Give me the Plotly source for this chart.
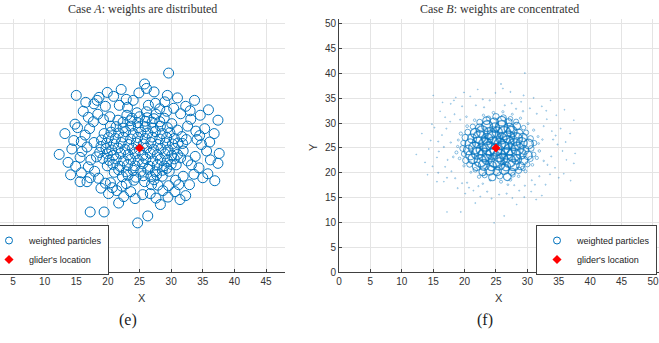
import plotly.graph_objects as go

# ---------------- data ----------------
x_ticks = [0, 5, 10, 15, 20, 25, 30, 35, 40, 45, 50]
y_ticks = [0, 5, 10, 15, 20, 25, 30, 35, 40, 45, 50]
glider_x = [25.0]
glider_y = [25.0]

# particles in the central blob (heavy weights in case B)
core_x = [23.2, 24.4, 25.6, 26.8, 27.7,
          21.7, 22.9, 24.0, 25.2, 26.3, 27.5, 28.6, 29.3,
          20.8, 21.9, 23.1, 24.3, 25.5, 26.6, 27.8, 28.9, 30.0,
          20.2, 21.3, 22.5, 23.6, 24.8, 26.0, 27.1, 28.3, 29.4, 30.5,
          19.9, 20.9, 22.0, 23.2, 24.3, 25.5, 26.7, 27.8, 29.0, 30.1, 31.0,
          19.7, 20.6, 21.6, 22.7, 23.9, 25.0, 26.1, 27.2, 28.4, 29.5, 30.6,
          19.8, 20.9, 22.1, 23.3, 24.5, 25.6, 26.8, 27.9, 29.1, 30.2, 31.1,
          20.1, 21.2, 22.4, 23.6, 24.7, 25.9, 27.0, 28.2, 29.3, 30.5,
          20.5, 21.7, 22.8, 24.0, 25.2, 26.3, 27.5, 28.6, 29.8,
          21.3, 22.4, 23.6, 24.8, 25.9, 27.1, 28.3, 29.4,
          22.4, 23.5, 24.7, 25.9, 27.0, 28.2,
          23.8, 25.0, 26.2, 27.3]
core_y = [19.5, 19.1, 19.4, 19.2, 19.6,
          20.6, 20.2, 20.5, 20.3, 20.7, 20.2, 20.5, 20.9,
          21.7, 21.3, 21.6, 21.4, 21.8, 21.3, 21.6, 21.4, 21.7,
          22.5, 22.8, 22.4, 22.7, 22.5, 22.8, 22.4, 22.7, 22.5, 22.8,
          23.8, 23.5, 23.9, 23.6, 23.8, 23.5, 23.9, 23.6, 23.8, 23.5, 23.7,
          24.9, 24.6, 25.0, 24.7, 24.9, 24.6, 25.0, 24.7, 24.9, 24.6, 24.9,
          26.0, 25.8, 26.1, 25.7, 26.0, 25.8, 26.1, 25.7, 26.0, 25.8, 26.0,
          27.1, 26.9, 27.2, 26.8, 27.1, 26.9, 27.2, 26.8, 27.1, 26.9,
          28.2, 28.0, 28.3, 27.9, 28.2, 28.0, 28.3, 27.9, 28.1,
          29.3, 29.0, 29.4, 29.1, 29.3, 29.0, 29.4, 29.1,
          30.2, 30.5, 30.1, 30.4, 30.2, 30.3,
          31.0, 31.3, 31.1, 30.9]
core_w_b = [0.35, 0.5, 0.45, 0.55, 0.3,
            0.3, 0.55, 0.7, 0.6, 0.75, 0.5, 0.45, 0.3,
            0.4, 0.6, 0.8, 0.7, 0.9, 0.65, 0.85, 0.55, 0.35,
            0.45, 0.7, 0.9, 0.75, 1.0, 0.8, 0.95, 0.7, 0.6, 0.35,
            0.35, 0.65, 0.85, 1.0, 0.8, 0.95, 0.85, 1.0, 0.75, 0.6, 0.3,
            0.4, 0.7, 0.9, 0.8, 1.0, 0.9, 1.0, 0.85, 0.95, 0.65, 0.4,
            0.35, 0.75, 0.8, 1.0, 0.9, 0.85, 1.0, 0.9, 0.8, 0.7, 0.35,
            0.45, 0.65, 0.95, 0.85, 1.0, 0.8, 0.9, 0.95, 0.6, 0.4,
            0.4, 0.7, 0.85, 0.9, 0.75, 1.0, 0.8, 0.65, 0.35,
            0.35, 0.6, 0.8, 0.7, 0.9, 0.75, 0.55, 0.3,
            0.4, 0.55, 0.65, 0.7, 0.5, 0.35,
            0.3, 0.45, 0.4, 0.3]

# particles at the rim of the blob
edge_x = [18.9, 18.7, 19.0, 19.2, 19.4, 19.9, 20.4, 21.0, 21.6, 22.3, 23.0, 24.1,
          24.6, 25.8, 26.1, 27.3, 27.6, 28.6, 28.9, 29.7, 30.1, 30.8, 31.0, 31.5,
          31.7, 31.9, 31.8, 32.4, 18.2, 22.9, 26.9, 20.3, 29.3, 17.8, 32.6]
edge_y = [25.3, 24.1, 26.6, 22.9, 27.9, 21.4, 29.4, 20.1, 30.6, 19.2, 31.6, 18.5,
          32.1, 18.2, 32.3, 18.6, 31.8, 19.3, 31.0, 20.3, 29.9, 21.6, 28.6, 23.0,
          27.3, 24.4, 25.9, 26.7, 23.2, 17.8, 17.6, 31.3, 32.4, 26.1, 22.4]
edge_w_b = [0.12, 0.18, 0.1, 0.15, 0.2, 0.12, 0.16, 0.1, 0.14, 0.2, 0.12, 0.1,
            0.15, 0.18, 0.12, 0.16, 0.1, 0.14, 0.12, 0.18, 0.1, 0.15, 0.12, 0.2,
            0.1, 0.14, 0.08, 0.06, 0.08, 0.06, 0.08, 0.07, 0.06, 0.05, 0.06]

# outlying particles (near-zero weights in case B)
outer_x = [29.6, 25.8, 26.1, 15.0, 29.4, 37.4, 14.8, 12.3, 13.7, 37.6,
           37.4, 34.8, 32.3, 30.4, 15.6, 16.7, 20.7, 23.6, 25.5, 26.7,
           28.7, 30.6, 32.3, 32.9, 35.0, 35.8, 24.7, 26.3, 17.2, 19.4,
           18.3, 19.6, 22.9, 24.0, 27.5, 16.9, 15.8, 16.7, 15.9, 15.6,
           33.8, 34.1, 32.6, 33.1, 17.2, 20.4, 31.2, 17.8, 18.6, 20.9,
           21.8, 23.1, 26.4, 28.2, 29.0, 31.5, 33.9, 34.5, 33.2, 34.4,
           33.6, 31.9, 30.7, 29.6, 27.9, 22.2, 21.4, 19.6, 18.5, 17.9,
           16.9, 17.3, 16.4, 17.1, 17.7, 18.4, 19.3, 16.1, 15.2, 14.6,
           14.3, 14.9, 15.8, 35.6, 36.2, 35.3, 36.1, 34.6, 33.0, 22.5,
           24.3, 27.6, 29.5, 31.4, 18.9, 20.1, 24.9, 27.3, 22.1, 19.9,
           31.0, 16.5, 13.2, 36.8, 28.3, 21.7, 33.7, 35.9, 14.1, 36.9]
outer_y = [40.1, 37.9, 37.0, 35.6, 35.6, 30.6, 29.8, 23.7, 22.1, 23.9,
           21.9, 25.7, 33.4, 33.0, 18.2, 18.2, 17.0, 16.2, 15.6, 15.8,
           16.4, 16.2, 15.4, 17.6, 19.0, 19.8, 9.9, 11.3, 12.1, 12.1,
           34.6, 33.4, 34.8, 34.6, 34.0, 31.2, 26.3, 25.2, 24.3, 23.1,
           23.3, 26.7, 29.4, 30.8, 19.0, 18.0, 17.6, 33.9, 35.2, 35.4,
           33.6, 33.2, 33.6, 32.9, 34.3, 31.9, 28.4, 27.5, 21.6, 21.0,
           19.7, 19.3, 18.5, 17.4, 17.5, 17.3, 16.4, 17.9, 18.9, 20.3,
           21.2, 22.6, 27.6, 28.9, 30.3, 31.8, 30.7, 32.4, 29.1, 26.5,
           24.8, 21.3, 20.0, 24.4, 22.6, 28.9, 26.2, 31.6, 32.5, 15.2,
           14.8, 14.9, 15.1, 14.6, 16.9, 15.8, 36.1, 36.3, 36.8, 36.2,
           35.1, 34.2, 27.9, 27.9, 13.6, 13.9, 34.6, 32.7, 19.6, 18.4]
outer_w_b = [0.02, 0.03, 0.02, 0.01, 0.03, 0.01, 0.02, 0.01, 0.02, 0.01,
             0.02, 0.03, 0.02, 0.03, 0.02, 0.01, 0.03, 0.04, 0.03, 0.04,
             0.03, 0.02, 0.02, 0.03, 0.02, 0.01, 0.01, 0.02, 0.01, 0.02,
             0.02, 0.03, 0.03, 0.04, 0.03, 0.02, 0.03, 0.04, 0.03, 0.02,
             0.03, 0.04, 0.03, 0.02, 0.03, 0.04, 0.03, 0.02, 0.01, 0.02,
             0.03, 0.04, 0.03, 0.04, 0.02, 0.03, 0.02, 0.03, 0.04, 0.02,
             0.03, 0.04, 0.03, 0.04, 0.03, 0.04, 0.02, 0.03, 0.04, 0.03,
             0.02, 0.03, 0.02, 0.03, 0.02, 0.03, 0.04, 0.01, 0.02, 0.02,
             0.01, 0.02, 0.03, 0.02, 0.01, 0.02, 0.02, 0.01, 0.02, 0.02,
             0.03, 0.02, 0.03, 0.02, 0.03, 0.02, 0.02, 0.03, 0.01, 0.02,
             0.02, 0.01, 0.01, 0.02, 0.01, 0.02, 0.01, 0.01, 0.01, 0.01]

# ---------------- assemble ----------------
px = core_x + edge_x + outer_x
py = core_y + edge_y + outer_y
w_b = core_w_b + edge_w_b + outer_w_b

BLUE = "#0072BD"
RED = "#FF0000"
AX = "#404040"
GRID = "#e4e4e4"
SANS = "Liberation Sans, Arial, sans-serif"
SERIF = "Liberation Serif, Times New Roman, serif"

W, H = 659, 343
T, B = 19, 71
plot_h = H - T - B

fig = go.Figure()

# Case A: equal weights
fig.add_trace(go.Scatter(
    x=px, y=py, mode="markers", xaxis="x", yaxis="y", showlegend=False,
    marker=dict(symbol="circle-open", size=10, color=BLUE, line=dict(width=1, color=BLUE)),
    hoverinfo="skip"))
fig.add_trace(go.Scatter(
    x=glider_x, y=glider_y, mode="markers", xaxis="x", yaxis="y", showlegend=False,
    marker=dict(symbol="diamond", size=7, color=RED), hoverinfo="skip"))

# Case B: concentrated weights -> marker size (and stroke) from weight
sizes_b = [0.8 + 12.5 * w for w in w_b]
widths_b = [0.45 + 1.15 * w for w in w_b]
fig.add_trace(go.Scatter(
    x=px, y=py, mode="markers", xaxis="x2", yaxis="y2", showlegend=False,
    marker=dict(symbol="circle-open", size=sizes_b, color=BLUE,
                line=dict(width=widths_b, color=BLUE)),
    hoverinfo="skip"))
fig.add_trace(go.Scatter(
    x=glider_x, y=glider_y, mode="markers", xaxis="x2", yaxis="y2", showlegend=False,
    marker=dict(symbol="diamond", size=7, color=RED), hoverinfo="skip"))

# legend entries
for lg, xa, ya in (("legend", "x", "y"), ("legend2", "x2", "y2")):
    fig.add_trace(go.Scatter(
        x=[None], y=[None], mode="markers", xaxis=xa, yaxis=ya, legend=lg,
        name="weighted particles",
        marker=dict(symbol="circle-open", size=7, color=BLUE, line=dict(width=1, color=BLUE))))
    fig.add_trace(go.Scatter(
        x=[None], y=[None], mode="markers", xaxis=xa, yaxis=ya, legend=lg,
        name="glider's location",
        marker=dict(symbol="diamond", size=7, color=RED)))

common_axis = dict(
    showgrid=True, gridcolor=GRID, gridwidth=1, zeroline=False,
    ticks="inside", ticklen=3, tickcolor=AX, tickwidth=1,
    tickfont=dict(family=SANS, size=10, color="#333333"),
)

fig.update_layout(
    width=W, height=H,
    margin=dict(l=0, r=0, t=T, b=B, autoexpand=False),
    paper_bgcolor="white", plot_bgcolor="white",
    xaxis=dict(domain=[0, 285 / W], range=[2.94, 48.0], tickvals=x_ticks,
               showline=True, linecolor=AX, linewidth=1, anchor="y", **common_axis),
    yaxis=dict(domain=[0, 1], range=[0, 51], tickvals=y_ticks, showgrid=True,
               gridcolor=GRID, zeroline=False, showline=False, ticks="",
               showticklabels=False, anchor="x"),
    xaxis2=dict(domain=[339 / W, 1], range=[0, 50.96], tickvals=x_ticks,
                showline=True, linecolor=AX, linewidth=1, anchor="y2", **common_axis),
    yaxis2=dict(domain=[0, 1], range=[0, 51], tickvals=y_ticks,
                showline=True, linecolor=AX, linewidth=1, anchor="x2", **common_axis),
    legend=dict(x=-12 / W, y=(272 - 250) / plot_h, xanchor="left", yanchor="middle",
                bgcolor="white", bordercolor=AX, borderwidth=1,
                font=dict(family=SANS, size=9, color="#222222"), tracegroupgap=0),
    legend2=dict(x=536 / W, y=(272 - 250) / plot_h, xanchor="left", yanchor="middle",
                 bgcolor="white", bordercolor=AX, borderwidth=1,
                 font=dict(family=SANS, size=9, color="#222222"), tracegroupgap=0),
    showlegend=True,
)

def py_paper(ypx):
    return (H - B - ypx) / plot_h

annotations = [
    dict(text="Case <i>A</i>: weights are distributed", x=142 / W, y=py_paper(9),
         font=dict(family=SERIF, size=12, color="#333333")),
    dict(text="Case <i>B</i>: weights are concentrated", x=499 / W, y=py_paper(9),
         font=dict(family=SERIF, size=12, color="#333333")),
    dict(text="X", x=142 / W, y=py_paper(298), font=dict(family=SANS, size=11, color="#333333")),
    dict(text="X", x=499 / W, y=py_paper(298), font=dict(family=SANS, size=11, color="#333333")),
    dict(text="Y", x=313 / W, y=py_paper(147), textangle=-90,
         font=dict(family=SANS, size=11, color="#333333")),
    dict(text="(e)", x=128 / W, y=py_paper(320), font=dict(family=SERIF, size=16, color="#222222")),
    dict(text="(f)", x=485 / W, y=py_paper(320), font=dict(family=SERIF, size=16, color="#222222")),
]
for a in annotations:
    a.update(xref="paper", yref="paper", showarrow=False, xanchor="center", yanchor="middle")
fig.update_layout(annotations=annotations)

fig.write_html("out.html")
